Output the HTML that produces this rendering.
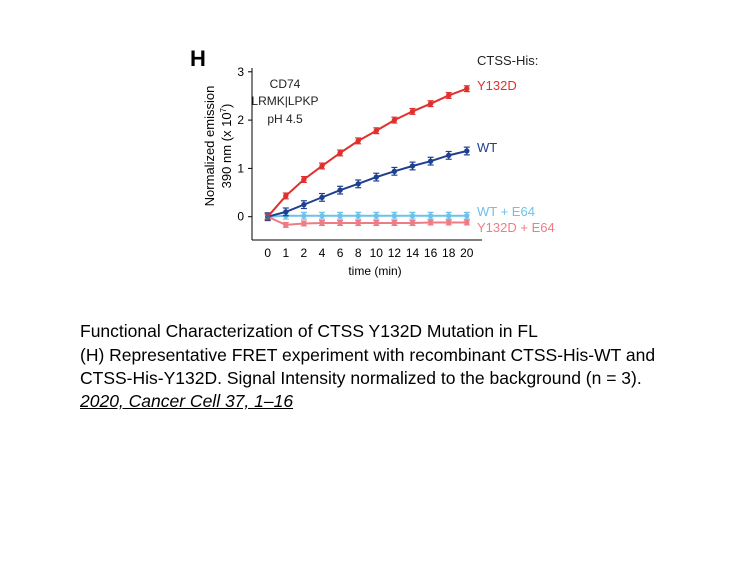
<!DOCTYPE html>
<html><head><meta charset="utf-8"><style>
body{margin:0;background:#fff;width:756px;height:567px;overflow:hidden;font-family:"Liberation Sans",sans-serif}
.cap{position:absolute;left:80px;font-size:17.5px;color:#000;white-space:nowrap}
</style></head><body>
<svg width="756" height="567" style="position:absolute;left:0;top:0" font-family="Liberation Sans, sans-serif">
<text x="190" y="66" font-size="22" font-weight="bold">H</text>
<text x="477" y="65" font-size="13" fill="#222">CTSS-His:</text>
<text x="285" y="88" font-size="12" fill="#222" text-anchor="middle">CD74</text>
<text x="285" y="105" font-size="12" fill="#222" text-anchor="middle">LRMK|LPKP</text>
<text x="285" y="123" font-size="12" fill="#222" text-anchor="middle">pH 4.5</text>
<g id="axes"></g>
<g id="marks"></g>
<text x="375" y="275" font-size="12" text-anchor="middle">time (min)</text>
<text transform="translate(214,146) rotate(-90)" font-size="13" text-anchor="middle">Normalized emission</text>
<text transform="translate(231,146) rotate(-90)" font-size="13" text-anchor="middle">390 nm (x 10<tspan font-size="8" dy="-5">7</tspan><tspan dy="5">)</tspan></text>
</svg>
<div class="cap" style="top:321px">Functional Characterization of CTSS Y132D Mutation in FL</div>
<div class="cap" style="top:345px">(H) Representative FRET experiment with recombinant CTSS-His-WT and</div>
<div class="cap" style="top:368px">CTSS-His-Y132D. Signal Intensity normalized to the background (n = 3).</div>
<div class="cap" style="top:391px;font-style:italic;text-decoration:underline">2020, Cancer Cell 37, 1–16</div>
<script>
const categories=["0","1","2","4","6","8","10","12","14","16","18","20"];
const yTicks=[0,1,2,3];
const seriesNames=["Y132D","WT","WT + E64","Y132D + E64"];
const y132d=[0,0.43,0.77,1.05,1.32,1.57,1.78,2.0,2.18,2.34,2.51,2.65];
const wt=[0,0.1,0.25,0.4,0.55,0.68,0.82,0.94,1.05,1.15,1.27,1.36];
const wtE64=[0,0.02,0.02,0.02,0.02,0.02,0.02,0.02,0.02,0.02,0.02,0.02];
const y132dE64=[0,-0.17,-0.14,-0.13,-0.13,-0.13,-0.13,-0.13,-0.13,-0.12,-0.12,-0.12];
const errs=[0.06,0.08,0.07,0.05];
const NS="http://www.w3.org/2000/svg";
const xs=i=>267.7+i*18.1;
const ys=v=>216.7-v*48.3;
function mk(t,a,p){const e=document.createElementNS(NS,t);for(const k in a)e.setAttribute(k,a[k]);p.appendChild(e);return e;}
const ax=document.getElementById('axes'),mg=document.getElementById('marks');
let l=mk('line',{x1:252,y1:68,x2:252,y2:240,stroke:'#000','stroke-width':1},ax);


l=mk('line',{x1:252,y1:240,x2:482,y2:240,stroke:'#000','stroke-width':1},ax);


yTicks.forEach(v=>{mk('line',{x1:248,x2:252,y1:ys(v),y2:ys(v),stroke:'#000'},ax);
const t=mk('text',{x:244,y:ys(v)+4,'font-size':12,'text-anchor':'end'},ax);t.textContent=v;

});
categories.forEach((c,i)=>{const t=mk('text',{x:xs(i),y:257,'font-size':12,'text-anchor':'middle'},ax);t.textContent=c;

});
const data=[y132d,wt,wtE64,y132dE64],cols=["#e0302e","#1f3f8f","#6ec1ea","#ee7c84"];
const labY=[90,152,216,232];
[3,2,1,0].forEach(s=>{const d=data[s],c=cols[s];
const g=mk('g',{},mg);


mk('polyline',{points:d.map((v,i)=>xs(i)+','+ys(v)).join(' '),fill:'none',stroke:c,'stroke-width':2},g);
d.forEach((v,i)=>{const e=errs[s]*48.3;
mk('line',{x1:xs(i),x2:xs(i),y1:ys(v)-e,y2:ys(v)+e,stroke:c,'stroke-width':1.2},g);
mk('line',{x1:xs(i)-3,x2:xs(i)+3,y1:ys(v)-e,y2:ys(v)-e,stroke:c,'stroke-width':1.2},g);
mk('line',{x1:xs(i)-3,x2:xs(i)+3,y1:ys(v)+e,y2:ys(v)+e,stroke:c,'stroke-width':1.2},g);
const p=mk('circle',{cx:xs(i),cy:ys(v),r:2.7,fill:i==0?'#5a6080':c},g);

});
const t=mk('text',{x:477,y:labY[s],'font-size':13,fill:c},mg);t.textContent=seriesNames[s];

});
</script>
</body></html>
